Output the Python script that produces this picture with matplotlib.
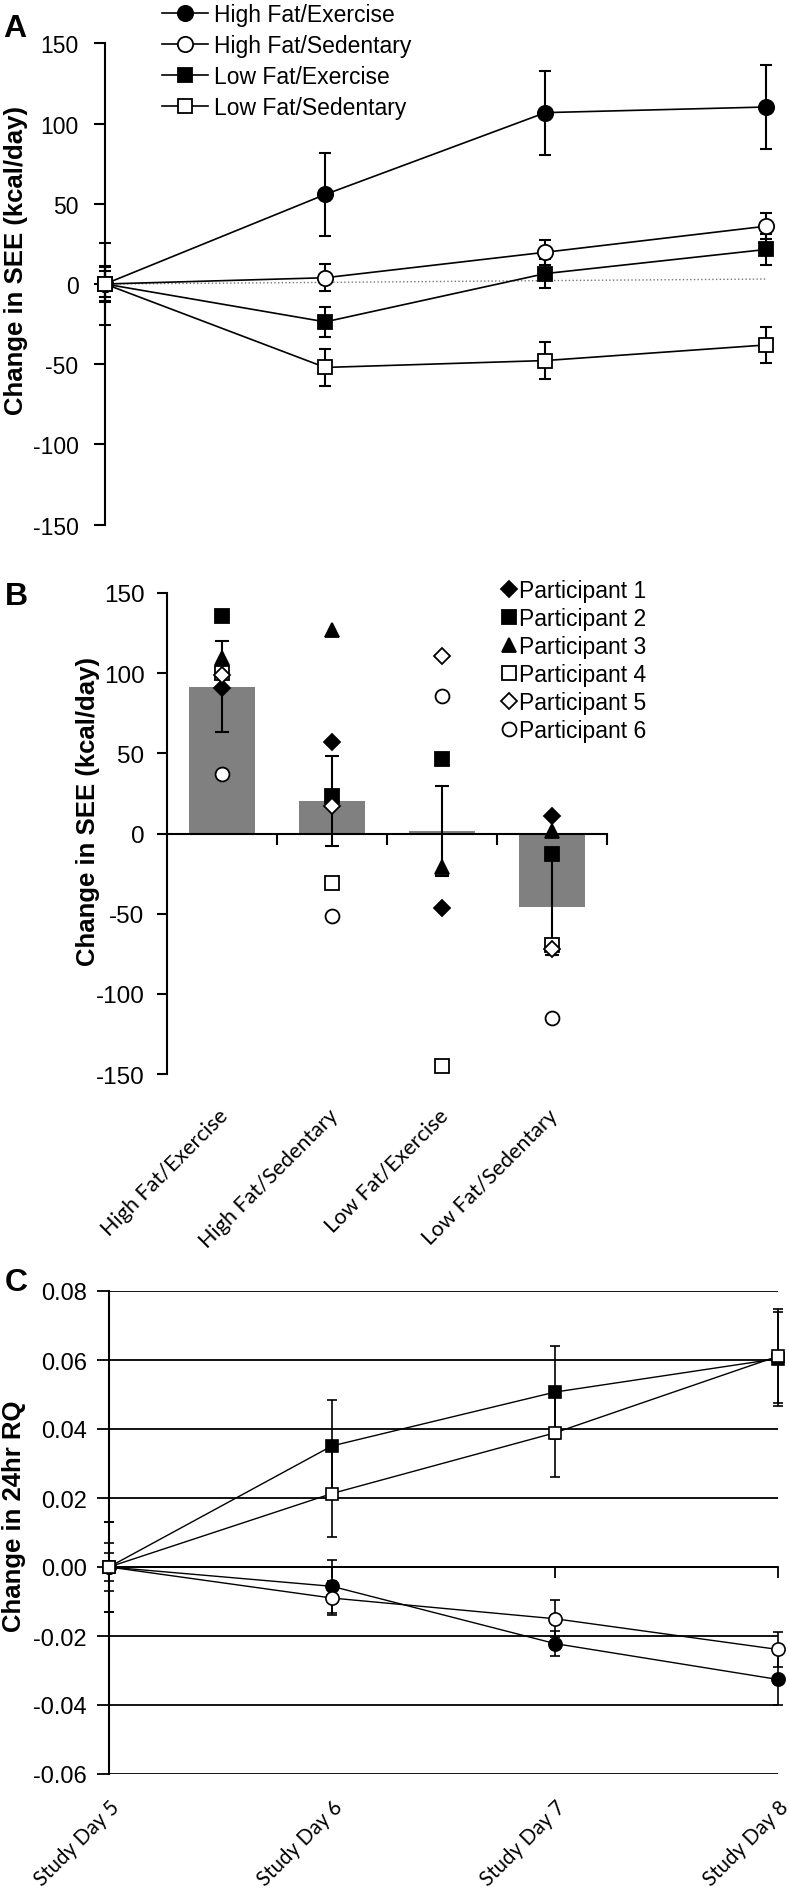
import matplotlib
matplotlib.use('Agg')
import matplotlib.pyplot as plt
from matplotlib.transforms import blended_transform_factory
import numpy as np

# panel A - change in SEE over study days
study_days = ['Study Day 5', 'Study Day 6', 'Study Day 7', 'Study Day 8']
see_hf_ex = [0, 55.8, 106.8, 110.3]
see_hf_ex_err = [25.5, 26.0, 26.2, 26.3]
see_hf_sed = [0, 3.9, 19.8, 36.0]
see_hf_sed_err = [8.3, 8.4, 7.8, 8.2]
see_lf_ex = [0, -23.6, 6.5, 21.5]
see_lf_ex_err = [10.6, 9.5, 9.2, 9.4]
see_lf_sed = [0, -52.0, -47.7, -38.0]
see_lf_sed_err = [11.0, 11.6, 11.8, 11.5]
see_ref_line = [0, 1.0, 2.1, 3.1]

# panel B - mean change per condition with individual participants
conditions = ['High Fat/Exercise', 'High Fat/Sedentary', 'Low Fat/Exercise', 'Low Fat/Sedentary']
cond_mean = [91.6, 20.3, 1.6, -45.6]
cond_err = [28.5, 28.3, 28.3, 30.0]
participant_labels = ['Participant 1', 'Participant 2', 'Participant 3',
                      'Participant 4', 'Participant 5', 'Participant 6']
p1 = [90.7, 57.3, -46.7, 11.1]
p2 = [135.6, 23.3, 46.7, -12.9]
p3 = [109.3, 126.7, -21.1, 1.8]
p4 = [100.4, -31.1, -144.9, -69.3]
p5 = [98.9, 17.3, 110.7, -72.2]
p6 = [37.1, -51.3, 85.6, -114.9]

# panel C - change in 24hr RQ
rq_hf_ex = [0, -0.0056, -0.0222, -0.0326]
rq_hf_ex_err = [0.007, 0.0076, 0.0036, 0.0074]
rq_hf_sed = [0, -0.0090, -0.0150, -0.0239]
rq_hf_sed_err = [0.004, 0.0049, 0.0053, 0.0051]
rq_lf_ex = [0, 0.0351, 0.0507, 0.0604]
rq_lf_ex_err = [0.013, 0.0132, 0.0135, 0.0136]
rq_lf_sed = [0, 0.0213, 0.0389, 0.0611]
rq_lf_sed_err = [0.013, 0.0127, 0.0128, 0.0136]

group_labels = ['High Fat/Exercise', 'High Fat/Sedentary', 'Low Fat/Exercise', 'Low Fat/Sedentary']

plt.rcParams['font.family'] = ['Liberation Sans', 'DejaVu Sans']
plt.rcParams['axes.unicode_minus'] = False
W, H = 789, 1890
fig = plt.figure(figsize=(W / 100, H / 100), dpi=100)

def px_axes(left, top, right, bottom):
    return fig.add_axes([left / W, 1 - bottom / H, (right - left) / W, (bottom - top) / H])

cat_font = ['Lato', 'Open Sans', 'DejaVu Sans']
ylab_kw = dict(fontsize=18.5, fontweight='bold')

# ---------------- panel A ----------------
axA = px_axes(105, 44.3, 765.7, 525.7)
x = np.arange(len(study_days))
styles = [
    (see_hf_ex, see_hf_ex_err, 'o', 'black', 11),
    (see_hf_sed, see_hf_sed_err, 'o', 'white', 11),
    (see_lf_ex, see_lf_ex_err, 's', 'black', 10),
    (see_lf_sed, see_lf_sed_err, 's', 'white', 10),
]
axA.plot(x, see_ref_line, color='#777777', linestyle=':', linewidth=1.0, clip_on=False, zorder=1)
for (vals, err, mk, fc, ms), lab in zip(styles, group_labels):
    axA.errorbar(x, vals, yerr=err, fmt='none', ecolor='black', elinewidth=1.5,
                 capsize=4, capthick=1.5, clip_on=False, zorder=2)
    axA.plot(x, vals, color='black', linewidth=1.2, marker=mk, markersize=ms,
             markerfacecolor=fc, markeredgecolor='black', markeredgewidth=1.3,
             label=lab, clip_on=False, zorder=3)
axA.set_xlim(0, 3)
axA.set_ylim(-150, 150)
axA.set_yticks([-150, -100, -50, 0, 50, 100, 150])
axA.set_xticks([])
for s in ['top', 'right', 'bottom']:
    axA.spines[s].set_visible(False)
axA.spines['left'].set_linewidth(1.5)
axA.tick_params(axis='y', direction='out', length=8, width=1.5, labelsize=16.5, pad=11)
axA.set_ylabel('Change in SEE (kcal/day)', **ylab_kw)
axA.yaxis.set_label_coords(-0.1165, 0.55)
axA.patch.set_alpha(0)
axA.legend(loc='upper left', bbox_to_anchor=(162 / W, 1 - 4 / H), bbox_transform=fig.transFigure,
           frameon=False, fontsize=16.5, handlelength=2.0, handletextpad=0.25,
           labelspacing=0.35, borderpad=0, borderaxespad=0)
fig.text(3 / W, 1 - 37 / H, 'A', fontsize=23, fontweight='bold', va='baseline', ha='left')

# ---------------- panel B ----------------
axB = px_axes(166.7, 594, 606.7, 1075)
xc = np.arange(len(conditions))
axB.bar(xc, cond_mean, width=0.6, color='#808080', zorder=1)
axB.errorbar(xc, cond_mean, yerr=cond_err, fmt='none', ecolor='black', elinewidth=1.5,
             capsize=5, capthick=1.5, zorder=2)
p_styles = [('D', 'black', 8), ('s', 'black', 9.5), ('^', 'black', 10),
            ('s', 'white', 9.5), ('D', 'white', 8), ('o', 'white', 10)]
for vals, (mk, fc, ms), lab in zip([p1, p2, p3, p4, p5, p6], p_styles, participant_labels):
    axB.plot(xc, vals, linestyle='none', marker=mk, markersize=ms, markerfacecolor=fc,
             markeredgecolor='black', markeredgewidth=1.3, label=lab, zorder=3, clip_on=False)
axB.set_xlim(-0.5, 3.5)
axB.set_ylim(-150, 150)
axB.set_yticks([-150, -100, -50, 0, 50, 100, 150])
axB.set_xticks([0.5, 1.5, 2.5, 3.5])
axB.set_xticklabels([])
axB.spines['top'].set_visible(False)
axB.spines['right'].set_visible(False)
axB.spines['bottom'].set_position(('data', 0))
axB.spines['bottom'].set_linewidth(1.5)
axB.spines['left'].set_linewidth(1.5)
axB.tick_params(axis='y', direction='out', length=7, width=1.5, labelsize=17.5, pad=9)
axB.tick_params(axis='x', direction='out', length=8, width=1.5)
axB.set_ylabel('Change in SEE (kcal/day)', **ylab_kw)
axB.yaxis.set_label_coords(-0.152, 0.547)
trB = blended_transform_factory(axB.transData, axB.transAxes)
for i, lab in enumerate(conditions):
    axB.text(i - 0.036, -0.064, lab, transform=trB, rotation=45, ha='right', va='top',
             rotation_mode='anchor', fontsize=15.5, family=cat_font)
axB.legend(loc='upper left', bbox_to_anchor=(502 / W, 1 - 580 / H), bbox_transform=fig.transFigure,
           frameon=False, fontsize=16.5, handlelength=0.6, handletextpad=0.15,
           labelspacing=0.22, borderpad=0, borderaxespad=0)
fig.text(5 / W, 1 - 605 / H, 'B', fontsize=23, fontweight='bold', va='baseline', ha='left')

# ---------------- panel C ----------------
axC = px_axes(109, 1292, 778, 1775)
c_styles = [
    (rq_hf_ex, rq_hf_ex_err, 'o', 'black', 9.5),
    (rq_hf_sed, rq_hf_sed_err, 'o', 'white', 9.5),
    (rq_lf_ex, rq_lf_ex_err, 's', 'black', 9),
    (rq_lf_sed, rq_lf_sed_err, 's', 'white', 9),
]
for vals, err, mk, fc, ms in c_styles:
    axC.errorbar(x, vals, yerr=err, fmt='none', ecolor='black', elinewidth=1.2,
                 capsize=3.5, capthick=1.2, clip_on=False, zorder=2)
    axC.plot(x, vals, color='black', linewidth=1.0, marker=mk, markersize=ms,
             markerfacecolor=fc, markeredgecolor='black', markeredgewidth=1.2,
             clip_on=False, zorder=3)
axC.set_xlim(0, 3)
axC.set_ylim(-0.06, 0.08)
yt = [-0.06, -0.04, -0.02, 0.0, 0.02, 0.04, 0.06, 0.08]
axC.set_yticks(yt)
axC.set_yticklabels(['%.2f' % v for v in yt])
axC.yaxis.grid(True, color='black', linewidth=1.3)
axC.set_axisbelow(True)
axC.set_xticks(x)
axC.set_xticklabels([])
axC.spines['top'].set_visible(False)
axC.spines['right'].set_visible(False)
axC.spines['bottom'].set_position(('data', 0))
axC.spines['bottom'].set_linewidth(1.3)
axC.spines['left'].set_linewidth(1.5)
axC.tick_params(axis='y', direction='out', length=9, width=1.3, labelsize=17, pad=7)
axC.tick_params(axis='x', direction='out', length=8, width=1.3)
axC.set_ylabel('Change in 24hr RQ', **ylab_kw)
axC.yaxis.set_label_coords(-0.124, 0.536)
trC = blended_transform_factory(axC.transData, axC.transAxes)
for i, lab in enumerate(study_days):
    axC.text(i, -0.046, lab, transform=trC, rotation=45, ha='right', va='top',
             rotation_mode='anchor', fontsize=14.8, family=cat_font)
fig.text(5 / W, 1 - 1291 / H, 'C', fontsize=23, fontweight='bold', va='baseline', ha='left')

fig.savefig('out.png', dpi=100)
